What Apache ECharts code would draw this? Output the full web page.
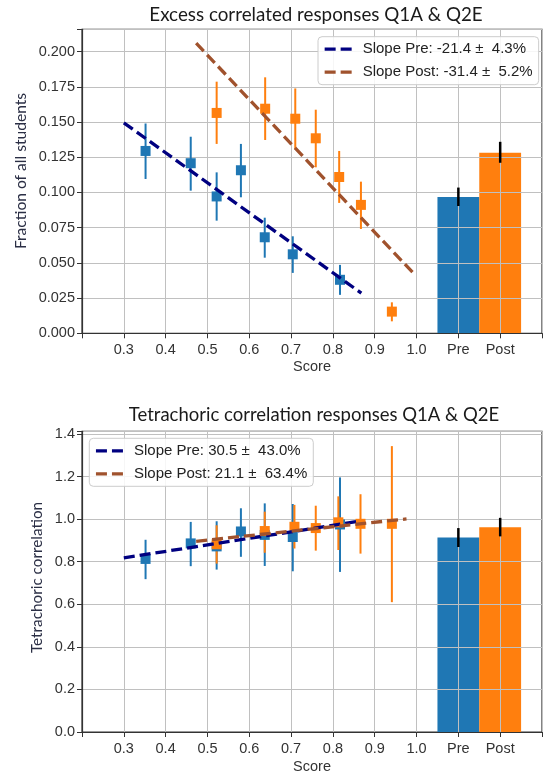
<!DOCTYPE html>
<html><head><meta charset="utf-8">
<script src="https://cdn.jsdelivr.net/npm/echarts@6/dist/echarts.min.js"></script>
<style>html,body{margin:0;padding:0;background:#fff}#c{width:545px;height:775px}</style>
</head><body><div id="c"></div>
<script>
// ---- data ----
const xTickValues = [0.3, 0.4, 0.5, 0.6, 0.7, 0.8, 0.9, 1.0, 1.1, 1.2];
const xTickLabels = ['0.3', '0.4', '0.5', '0.6', '0.7', '0.8', '0.9', '1.0', 'Pre', 'Post'];
const barPositions = [1.1, 1.2];

// Top chart: Excess correlated responses
const excessPreScore  = [0.352, 0.460, 0.522, 0.580, 0.637, 0.704, 0.817];
const excessPreValue  = [0.1295, 0.1208, 0.0972, 0.1158, 0.0682, 0.0561, 0.0380];
const excessPreLow    = [0.1096, 0.1013, 0.0800, 0.0966, 0.0537, 0.0429, 0.0273];
const excessPreHigh   = [0.1490, 0.1396, 0.1143, 0.1345, 0.0821, 0.0689, 0.0486];
const excessPostScore = [0.522, 0.638, 0.710, 0.759, 0.815, 0.867, 0.941];
const excessPostValue = [0.1565, 0.1595, 0.1524, 0.1385, 0.1110, 0.0912, 0.0154];
const excessPostLow   = [0.1345, 0.1373, 0.1306, 0.1179, 0.0926, 0.0741, 0.0085];
const excessPostHigh  = [0.1787, 0.1818, 0.1739, 0.1588, 0.1295, 0.1077, 0.0220];
const excessFitPreX  = [0.300, 0.868];
const excessFitPreY  = [0.1495, 0.0285];
const excessFitPostX = [0.473, 0.993];
const excessFitPostY = [0.2060, 0.0425];
const excessBars     = [0.0968, 0.1283];
const excessBarLow   = [0.0904, 0.1211];
const excessBarHigh  = [0.1035, 0.1360];
const excessLegend   = ['Slope Pre: -21.4 \u00b1  4.3%', 'Slope Post: -31.4 \u00b1  5.2%'];

// Bottom chart: Tetrachoric correlation
const tetraPreScore  = [0.352, 0.460, 0.522, 0.580, 0.637, 0.704, 0.817];
const tetraPreValue  = [0.813, 0.886, 0.872, 0.942, 0.926, 0.916, 0.975];
const tetraPreLow    = [0.718, 0.779, 0.763, 0.823, 0.780, 0.755, 0.752];
const tetraPreHigh   = [0.903, 0.987, 0.990, 1.051, 1.074, 1.071, 1.196];
const tetraPostScore = [0.522, 0.637, 0.708, 0.759, 0.813, 0.866, 0.941];
const tetraPostValue = [0.882, 0.944, 0.964, 0.958, 0.985, 0.978, 0.978];
const tetraPostLow   = [0.791, 0.842, 0.862, 0.852, 0.855, 0.838, 0.610];
const tetraPostHigh  = [0.971, 1.035, 1.067, 1.063, 1.107, 1.117, 1.343];
const tetraFitPreX   = [0.300, 0.866];
const tetraFitPreY   = [0.818, 0.991];
const tetraFitPostX  = [0.473, 0.976];
const tetraFitPostY  = [0.896, 1.001];
const tetraBars      = [0.914, 0.962];
const tetraBarLow    = [0.869, 0.919];
const tetraBarHigh   = [0.958, 1.006];
const tetraLegend    = ['Slope Pre: 30.5 \u00b1  43.0%', 'Slope Post: 21.1 \u00b1  63.4%'];

// ---- styles ----
const BLUE = '#1f77b4', ORANGE = '#ff7f0e', NAVY = '#000080', SIENNA = '#a0522d';
const BAR_HALF = 0.05;
const TICK_FONT = 'Liberation Sans';
const HUMAN_FONT = 'Lato';
const FIT_DASH = [11, 5];

const chart = echarts.init(document.getElementById('c'), null, {renderer: 'canvas'});

function xLabel(v) {
  for (let i = 0; i < xTickValues.length; i++) if (Math.abs(xTickValues[i] - v) < 1e-6) return xTickLabels[i];
  return '';
}
function makeX(gi, gap) {
  return {
    type: 'value', gridIndex: gi, min: 0.2, max: 1.3, interval: 0.1, z: 3,
    name: 'Score', nameLocation: 'middle', nameGap: gap,
    nameTextStyle: {fontFamily: TICK_FONT, fontSize: 14.5, color: '#333'},
    axisLine: {show: true, onZero: false, lineStyle: {color: '#333', width: 1.2}},
    axisTick: {show: true, length: 5, lineStyle: {color: '#333', width: 1}},
    axisLabel: {margin: 9, formatter: xLabel, color: '#333', fontSize: 14.5, fontFamily: TICK_FONT, showMinLabel: true, showMaxLabel: true, hideOverlap: false},
    splitLine: {show: true, lineStyle: {color: '#c0c0c0', width: 1}}
  };
}
function makeY(gi, max, interval, digits) {
  return {
    type: 'value', gridIndex: gi, min: 0, max: max, interval: interval, z: 3,
    axisLine: {show: true, onZero: false, lineStyle: {color: '#333', width: 1.2}},
    axisTick: {show: true, length: 5, lineStyle: {color: '#333', width: 1}},
    axisLabel: {margin: 7, color: '#333', fontSize: 14.5, fontFamily: TICK_FONT,
      formatter: v => {
        const k = v / interval;
        if (Math.abs(k - Math.round(k)) > 1e-6) return '';
        return v.toFixed(digits);
      }},
    splitLine: {show: true, lineStyle: {color: '#c0c0c0', width: 1}}
  };
}

function errSeries(gi, xs, lo, hi, color, width, z) {
  return {
    type: 'custom', xAxisIndex: gi, yAxisIndex: gi, z: z, silent: true,
    data: xs.map((x, i) => [x, lo[i], hi[i]]),
    encode: {x: 0, y: [1, 2]},
    renderItem: (p, api) => {
      const a = api.coord([api.value(0), api.value(1)]);
      const b = api.coord([api.value(0), api.value(2)]);
      return {type: 'line', shape: {x1: a[0], y1: a[1], x2: b[0], y2: b[1]},
        style: {stroke: color, lineWidth: width}};
    }
  };
}
function scatterSeries(gi, xs, ys, color) {
  return {
    type: 'scatter', xAxisIndex: gi, yAxisIndex: gi, z: 4, silent: true,
    symbol: 'rect', symbolSize: 10, itemStyle: {color: color, opacity: 1},
    data: xs.map((x, i) => [x, ys[i]])
  };
}
function fitSeries(gi, name, xs, ys, color) {
  return {
    type: 'line', name: name, xAxisIndex: gi, yAxisIndex: gi, z: 5, silent: true,
    symbol: 'none', animation: false,
    lineStyle: {color: color, width: 3.3, type: FIT_DASH},
    itemStyle: {color: color},
    data: xs.map((x, i) => [x, ys[i]])
  };
}
function barSeries(gi, vals) {
  const colors = [BLUE, ORANGE];
  return {
    type: 'custom', xAxisIndex: gi, yAxisIndex: gi, z: 1, silent: true,
    data: barPositions.map((x, i) => [x, vals[i], i]),
    encode: {x: 0, y: 1},
    renderItem: (p, api) => {
      const a = api.coord([api.value(0) - BAR_HALF, api.value(1)]);
      const b = api.coord([api.value(0) + BAR_HALF, 0]);
      return {type: 'rect', shape: {x: a[0], y: a[1], width: b[0] - a[0], height: b[1] - a[1]},
        style: {fill: colors[api.value(2)]}};
    }
  };
}
function legendFor(names, left, top) {
  return {
    data: names.map(n => ({name: n})), orient: 'vertical', left: left, top: top, z: 10,
    itemWidth: 29, itemHeight: 14, itemGap: 8,
    itemStyle: {opacity: 0},
    lineStyle: {width: 3.3, type: FIT_DASH},
    backgroundColor: 'rgba(255,255,255,0.85)', borderColor: '#cccccc', borderWidth: 1, borderRadius: 4,
    padding: [5, 6, 5, 5], selectedMode: false,
    textStyle: {fontFamily: TICK_FONT, fontSize: 15, color: '#222', padding: [0, 0, 0, 4]}
  };
}

const option = {
  animation: false,
  backgroundColor: '#fff',
  grid: [
    {left: 82, top: 29.3, right: -3, bottom: 441.7, show: true, borderColor: '#333', borderWidth: 1.2, backgroundColor: 'transparent'},
    {left: 82, top: 431.3, right: -3, bottom: 41.7, show: true, borderColor: '#333', borderWidth: 1.2, backgroundColor: 'transparent'}
  ],
  xAxis: [makeX(0, 26), makeX(1, 27)],
  yAxis: [makeY(0, 0.2159, 0.025, 3), makeY(1, 1.4126, 0.2, 1)],
  legend: [legendFor(excessLegend, 318, 36.7), legendFor(tetraLegend, 89.3, 438.3)],
  graphic: [
    {type: 'text', x: 316, y: 15, z: 10, style: {text: 'Excess correlated responses Q1A & Q2E', align: 'center', verticalAlign: 'middle', font: '18.8px ' + HUMAN_FONT, fill: '#1a1a1a'}},
    {type: 'text', x: 314, y: 415, z: 10, style: {text: 'Tetrachoric correlation responses Q1A & Q2E', align: 'center', verticalAlign: 'middle', font: '18.5px ' + HUMAN_FONT, fill: '#1a1a1a'}},
    {type: 'text', x: 20.5, y: 171, rotation: Math.PI / 2, z: 10, style: {text: 'Fraction of all students', align: 'center', verticalAlign: 'middle', font: '15.6px ' + HUMAN_FONT, fill: '#2b2f45'}},
    {type: 'text', x: 37.2, y: 577.5, rotation: Math.PI / 2, z: 10, style: {text: 'Tetrachoric correlation', align: 'center', verticalAlign: 'middle', font: '15.3px ' + HUMAN_FONT, fill: '#2b2f45'}}
  ],
  series: [
    barSeries(0, excessBars),
    errSeries(0, barPositions, excessBarLow, excessBarHigh, '#000', 2.5, 4),
    errSeries(0, excessPreScore, excessPreLow, excessPreHigh, BLUE, 2, 4),
    scatterSeries(0, excessPreScore, excessPreValue, BLUE),
    errSeries(0, excessPostScore, excessPostLow, excessPostHigh, ORANGE, 2, 4),
    scatterSeries(0, excessPostScore, excessPostValue, ORANGE),
    fitSeries(0, excessLegend[0], excessFitPreX, excessFitPreY, NAVY),
    fitSeries(0, excessLegend[1], excessFitPostX, excessFitPostY, SIENNA),

    barSeries(1, tetraBars),
    errSeries(1, barPositions, tetraBarLow, tetraBarHigh, '#000', 2.5, 4),
    errSeries(1, tetraPreScore, tetraPreLow, tetraPreHigh, BLUE, 2, 4),
    scatterSeries(1, tetraPreScore, tetraPreValue, BLUE),
    errSeries(1, tetraPostScore, tetraPostLow, tetraPostHigh, ORANGE, 2, 4),
    scatterSeries(1, tetraPostScore, tetraPostValue, ORANGE),
    fitSeries(1, tetraLegend[0], tetraFitPreX, tetraFitPreY, NAVY),
    fitSeries(1, tetraLegend[1], tetraFitPostX, tetraFitPostY, SIENNA)
  ]
};
chart.setOption(option);
</script>
</body></html>
